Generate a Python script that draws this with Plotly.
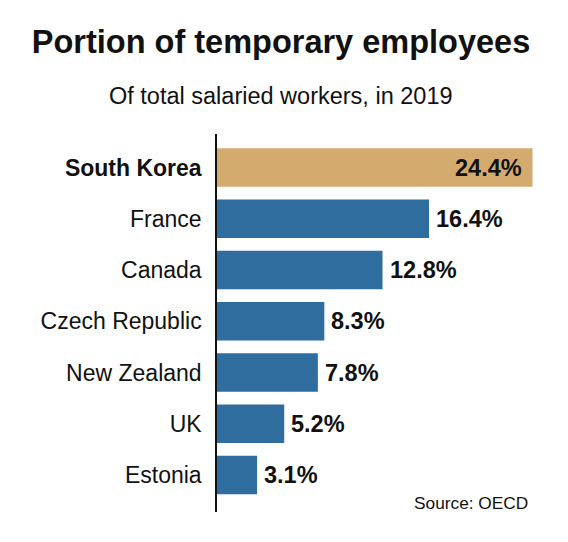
import plotly.graph_objects as go

countries = ["South Korea", "France", "Canada", "Czech Republic", "New Zealand", "UK", "Estonia"]
values = [24.4, 16.4, 12.8, 8.3, 7.8, 5.2, 3.1]
value_labels = ["24.4%", "16.4%", "12.8%", "8.3%", "7.8%", "5.2%", "3.1%"]
highlight = "South Korea"

TAN = "#D3AB6F"
BLUE = "#2E6D9D"
FONT = "Liberation Sans, Arial, Helvetica, sans-serif"

W, H = 568, 542
ML, MR, MT, MB = 217, 20, 134, 30

pos = list(range(len(countries)))
colors = [TAN if c == highlight else BLUE for c in countries]
ticktext = [f"<b>{c}</b>" if c == highlight else c for c in countries]

fig = go.Figure()
fig.add_trace(go.Bar(
    x=values, y=pos, orientation="h",
    marker=dict(color=colors, line=dict(width=0)),
    width=0.75, hoverinfo="skip", showlegend=False,
))

for c, v, lab, p in zip(countries, values, value_labels, pos):
    inside = c == highlight
    fig.add_annotation(x=v, y=p, xref="x", yref="y", text=f"<b>{lab}</b>",
                       showarrow=False, xanchor="right" if inside else "left",
                       yanchor="middle", xshift=-8 if inside else 5,
                       font=dict(family=FONT, size=23.5, color="#111111"))

plot_h = H - MT - MB
plot_w = W - ML - MR

fig.update_layout(
    width=W, height=H,
    margin=dict(l=ML, r=MR, t=MT, b=MB, pad=0),
    paper_bgcolor="white", plot_bgcolor="white",
    title=dict(text="<b>Portion of temporary employees</b>", x=281 / W, xanchor="center",
               y=1 - 42 / H, yanchor="middle", yref="container", xref="container",
               font=dict(family=FONT, size=32.5, color="#111111")),
    xaxis=dict(range=[0, plot_w / 12.93], visible=False, fixedrange=True),
    yaxis=dict(range=[6.722, -0.654], tickvals=pos, ticktext=ticktext,
               showline=True, linecolor="#111111", linewidth=1.5,
               showgrid=False, zeroline=False, ticks="", ticklabelstandoff=9,
               fixedrange=True,
               tickfont=dict(family=FONT, size=23, color="#111111")),
    font=dict(family=FONT),
)

fig.add_annotation(x=(281 - ML) / plot_w, y=(512 - 96) / plot_h, xref="paper", yref="paper",
                   text="Of total salaried workers, in 2019", showarrow=False,
                   xanchor="center", yanchor="middle",
                   font=dict(family=FONT, size=23.5, color="#111111"))
fig.add_annotation(x=(530 - ML) / plot_w, y=(512 - 503) / plot_h, xref="paper", yref="paper",
                   text="Source: OECD", showarrow=False, xanchor="right", yanchor="middle",
                   font=dict(family=FONT, size=17.3, color="#111111"))

fig.write_html("out.html", config={"displayModeBar": False},
               post_script="document.body.style.margin='0';document.body.style.padding='0';")
